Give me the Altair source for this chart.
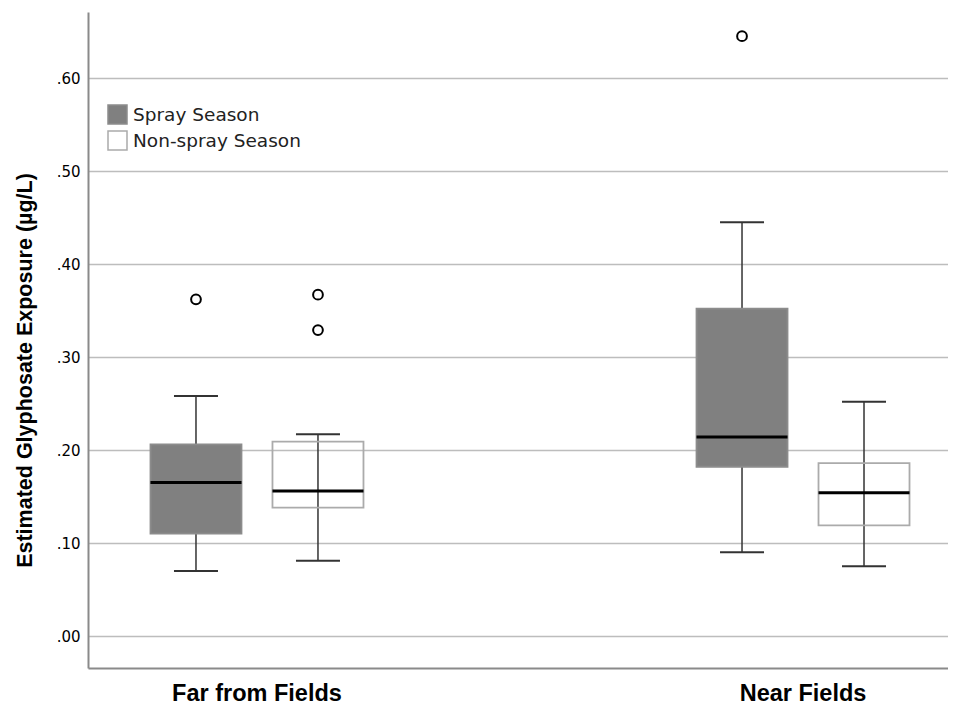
import altair as alt
import pandas as pd

groups = ["Far from Fields", "Near Fields"]
seasons = ["Spray Season", "Non-spray Season"]

box_group = ["Far from Fields", "Far from Fields", "Near Fields", "Near Fields"]
box_season = ["Spray Season", "Non-spray Season", "Spray Season", "Non-spray Season"]
whisker_low = [0.070, 0.081, 0.090, 0.075]
quart_1 = [0.110, 0.138, 0.182, 0.119]
medians = [0.165, 0.156, 0.214, 0.154]
quart_3 = [0.206, 0.209, 0.352, 0.186]
whisker_high = [0.258, 0.217, 0.445, 0.252]

out_group = ["Far from Fields", "Far from Fields", "Far from Fields", "Near Fields"]
out_season = ["Spray Season", "Non-spray Season", "Non-spray Season", "Spray Season"]
out_value = [0.362, 0.367, 0.329, 0.645]

y_ticks = [0.0, 0.1, 0.2, 0.3, 0.4, 0.5, 0.6]

boxes = pd.DataFrame({
    "group": box_group, "season": box_season, "low": whisker_low,
    "q1": quart_1, "median": medians, "q3": quart_3, "high": whisker_high,
})
outliers = pd.DataFrame({"group": out_group, "season": out_season, "value": out_value})

x_enc = alt.X(
    "group:N",
    scale=alt.Scale(domain=groups, paddingInner=0.5, paddingOuter=0.0375, align=0.793),
    axis=alt.Axis(
        title=None, labelAngle=0, labelFont="Liberation Sans", labelFontSize=23.5,
        labelFontWeight="bold", labelColor="#000000", labelPadding=13,
        ticks=False, grid=False, domainColor="#8a8a8a", domainWidth=2,
    ),
)
xo_enc = alt.XOffset(
    "season:N",
    scale=alt.Scale(domain=seasons, paddingInner=0.254, paddingOuter=0.246),
)
y_scale = alt.Scale(domain=[-0.0344, 0.671], nice=False, zero=False)
y_axis = alt.Axis(
    title="Estimated Glyphosate Exposure (µg/L)", values=y_ticks,
    labelExpr="substring(format(datum.value, '.2f'), 1)",
    labelFont="DejaVu Sans", labelFontSize=15, labelColor="#000000", labelPadding=8,
    ticks=False, grid=True, gridColor="#bdbdbd", gridWidth=1.5,
    domainColor="#8a8a8a", domainWidth=2,
    titleFont="Liberation Sans", titleFontSize=21.5, titleFontWeight="bold",
    titleColor="#000000", titleX=-57, titleY=358, titleAngle=270,
    titleBaseline="alphabetic", titleAlign="center",
)

legend = alt.Legend(
    title=None, orient="none", legendX=19, legendY=92, symbolType="square",
    symbolSize=361, symbolStrokeWidth=1.5, labelFont="DejaVu Sans",
    labelFontSize=18.5, labelColor="#222222", labelOffset=5, rowPadding=1, padding=0,
    labelLimit=400,
)

base = alt.Chart(boxes).encode(x=x_enc, xOffset=xo_enc)

whiskers = base.mark_rule(color="#333333", strokeWidth=1.5, opacity=1).encode(
    y=alt.Y("low:Q", scale=y_scale, axis=y_axis), y2="high:Q"
)
box = base.mark_bar(strokeWidth=1.8, opacity=1).encode(
    y=alt.Y("q1:Q", scale=y_scale), y2="q3:Q",
    fill=alt.Fill("season:N", scale=alt.Scale(domain=seasons, range=["#808080", "transparent"]), legend=legend),
    stroke=alt.Stroke("season:N", scale=alt.Scale(domain=seasons, range=["#8c8c8c", "#ababab"]), legend=legend),
)
median = base.mark_tick(color="#000000", thickness=3, size=91, orient="horizontal", opacity=1).encode(
    y=alt.Y("median:Q", scale=y_scale)
)
cap_low = base.mark_tick(color="#333333", thickness=2, size=44, orient="horizontal", opacity=1).encode(
    y=alt.Y("low:Q", scale=y_scale)
)
cap_high = base.mark_tick(color="#333333", thickness=2, size=44, orient="horizontal", opacity=1).encode(
    y=alt.Y("high:Q", scale=y_scale)
)
points = alt.Chart(outliers).mark_point(
    shape="circle", filled=False, color="#000000", strokeWidth=2, size=95, opacity=1
).encode(x=x_enc, xOffset=xo_enc, y=alt.Y("value:Q", scale=y_scale))

chart = alt.layer(whiskers, box, median, cap_low, cap_high, points).properties(
    width=860, height=656,
    autosize=alt.AutoSizeParams(type="none"),
    padding={"left": 80, "top": 4, "right": 0, "bottom": 36},
    background="#ffffff",
).configure_view(stroke=None)

chart.save("out.html", embed_options={"renderer": "svg", "actions": False})
